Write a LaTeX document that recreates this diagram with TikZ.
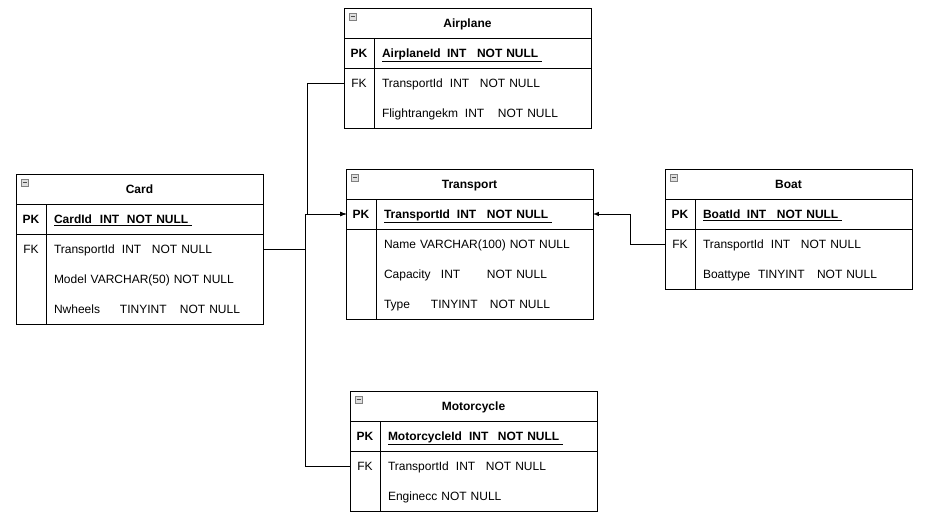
\documentclass[tikz,border=0pt]{standalone}
\usepackage{fontspec}
\setmainfont{Liberation Sans}
\usepackage{tikz}
\usetikzlibrary{positioning}
\usetikzlibrary{arrows}
\def\w#1#2{\makebox[#1pt][l]{#2}}
\def\icon#1{\draw[gray, fill=gray!25, line width=0.7pt] ([shift={(5,5)}]#1.north west) rectangle ++(7,7);
  \draw[black!70, line width=1pt] ([shift={(6.5,8.5)}]#1.north west) -- ++(4,0);}

\begin{document}
\begin{tikzpicture}[x=1pt, y=-1pt, font=\fontsize{12}{14}\selectfont]
\tikzstyle{title}=[rectangle, draw=black, line width=1pt, minimum width=247pt, minimum height=30pt, inner sep=0pt, outer sep=0pt, text height=8.5pt, text depth=0pt, font=\fontsize{12}{14}\selectfont\bfseries]
\tikzstyle{key}=[rectangle, minimum width=30pt, minimum height=30pt, inner sep=0pt, outer sep=0pt, text height=8.5pt, text depth=0pt]
\tikzstyle{field}=[rectangle, text width=201pt, inner xsep=8pt, inner ysep=0pt, outer sep=0pt, minimum height=30pt, text height=8.5pt, text depth=0pt, align=left]
\tikzstyle{pk}=[field, font=\fontsize{12}{14}\selectfont\bfseries]
\tikzstyle{line}=[line width=1pt]
\tikzstyle{connect}=[-latex, line width=1pt]
\useasboundingbox (0,0) rectangle (927,530);

% Airplane
\node[title] (plane) at (467.5,23) {Airplane};
\node[key, font=\fontsize{12}{14}\selectfont\bfseries, below right=0pt and 0pt of plane.south west] (planepkk) {PK};
\node[pk, right=0pt of planepkk] (planepk) {\underline{\w{65}{AirplaneId}\w{30}{INT}NOT NULL\ }};
\node[key, below=0pt of planepkk] (planefkk) {FK};
\node[field, right=0pt of planefkk] (planefk) {\w{68}{TransportId}\w{30}{INT}NOT NULL};
\node[field, below=0pt of planefk] (planerange) {\w{83}{Flightrangekm}\w{33}{INT}NOT NULL};
\draw[line] (plane.north west) rectangle (planerange.south east);
\draw[line] (planepkk.south west) -- (planepk.south east);
\draw[line] (planepkk.north east) -- (planepkk.north east |- planerange.south);
\icon{plane}

% Card
\node[title] (card) at (139.5,189) {Card};
\node[key, font=\fontsize{12}{14}\selectfont\bfseries, below right=0pt and 0pt of card.south west] (cardpkk) {PK};
\node[pk, right=0pt of cardpkk] (cardpk) {\underline{\w{46}{CardId}\w{27}{INT}NOT NULL\ }};
\node[key, below=0pt of cardpkk] (cardfkk) {FK};
\node[field, right=0pt of cardfkk] (cardfk) {\w{68}{TransportId}\w{30}{INT}NOT NULL};
\node[field, below=0pt of cardfk] (cardmodel) {Model VARCHAR(50) NOT NULL};
\node[field, below=0pt of cardmodel] (cardwheels) {\w{66}{Nwheels}\w{60}{TINYINT}NOT NULL};
\draw[line] (card.north west) rectangle (cardwheels.south east);
\draw[line] (cardpkk.south west) -- (cardpk.south east);
\draw[line] (cardpkk.north east) -- (cardpkk.north east |- cardwheels.south);
\icon{card}

% Transport
\node[title] (trans) at (469.5,184) {Transport};
\node[key, font=\fontsize{12}{14}\selectfont\bfseries, below right=0pt and 0pt of trans.south west] (transpkk) {PK};
\node[pk, right=0pt of transpkk] (transpk) {\underline{\w{73}{TransportId}\w{30}{INT}NOT NULL\ }};
\node[field, below=0pt of transpk] (transname) {Name VARCHAR(100) NOT NULL};
\node[field, below=0pt of transname] (transcap) {\w{57}{Capacity}\w{46}{INT}NOT NULL};
\node[field, below=0pt of transcap] (transtype) {\w{47}{Type}\w{59}{TINYINT}NOT NULL};
\draw[line] (trans.north west) rectangle (transtype.south east);
\draw[line] (transpkk.south west) -- (transpk.south east);
\draw[line] (transpkk.north east) -- (transpkk.north east |- transtype.south);
\icon{trans}

% Boat
\node[title] (boat) at (788.5,184) {Boat};
\node[key, font=\fontsize{12}{14}\selectfont\bfseries, below right=0pt and 0pt of boat.south west] (boatpkk) {PK};
\node[pk, right=0pt of boatpkk] (boatpk) {\underline{\w{44}{BoatId}\w{30}{INT}NOT NULL\ }};
\node[key, below=0pt of boatpkk] (boatfkk) {FK};
\node[field, right=0pt of boatfkk] (boatfk) {\w{68}{TransportId}\w{30}{INT}NOT NULL};
\node[field, below=0pt of boatfk] (boattype) {\w{55}{Boattype}\w{59}{TINYINT}NOT NULL};
\draw[line] (boat.north west) rectangle (boattype.south east);
\draw[line] (boatpkk.south west) -- (boatpk.south east);
\draw[line] (boatpkk.north east) -- (boatpkk.north east |- boattype.south);
\icon{boat}

% Motorcycle
\node[title] (moto) at (473.5,406) {Motorcycle};
\node[key, font=\fontsize{12}{14}\selectfont\bfseries, below right=0pt and 0pt of moto.south west] (motopkk) {PK};
\node[pk, right=0pt of motopkk] (motopk) {\underline{\w{81}{MotorcycleId}\w{29}{INT}NOT NULL\ }};
\node[key, below=0pt of motopkk] (motofkk) {FK};
\node[field, right=0pt of motofkk] (motofk) {\w{68}{TransportId}\w{30}{INT}NOT NULL};
\node[field, below=0pt of motofk] (motoengine) {Enginecc NOT NULL};
\draw[line] (moto.north west) rectangle (motoengine.south east);
\draw[line] (motopkk.south west) -- (motopk.south east);
\draw[line] (motopkk.north east) -- (motopkk.north east |- motoengine.south);
\icon{moto}

% foreign keys
\draw[connect] (planefkk.west) -- ++(-37,0) |- (transpkk.west);
\draw[connect] (cardfk.east) -- ++(42,0) |- (transpkk.west);
\draw[connect] (motofkk.west) -- ++(-45,0) |- (transpkk.west);
\draw[connect] (boatfkk.west) -- ++(-35,0) |- (transpk.east);
\end{tikzpicture}
\end{document}
